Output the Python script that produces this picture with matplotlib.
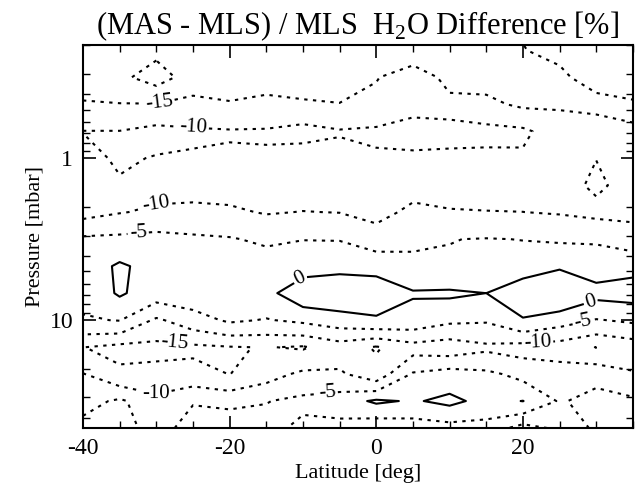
import matplotlib
matplotlib.use("Agg")
import matplotlib.pyplot as plt
import numpy as np
from matplotlib.ticker import FixedLocator, FixedFormatter, NullFormatter

plt.rcParams["font.family"] = ["Liberation Serif", "DejaVu Serif"]
plt.rcParams["mathtext.fontset"] = "custom"
plt.rcParams["mathtext.rm"] = "Liberation Serif"
plt.rcParams["axes.unicode_minus"] = False

# latitude grid [deg]
latitude = [-40, -35, -30, -25, -20, -15, -10, -5, 0, 5, 10, 15, 20, 25, 30, 35]
# pressure levels [mbar]
pressure = [0.147, 0.215, 0.316, 0.464, 0.681, 1.0, 1.47, 2.15,
            3.16, 4.64, 6.81, 10.0, 14.7, 21.5, 31.6, 46.4]

# (MAS - MLS) / MLS difference [%], one list per pressure level (top to bottom)
d_p0147 = [-18, -18, -18.5, -18, -18, -18, -18, -18, -18, -18.5, -18.5, -19, -20.5, -23, -25, -25]
d_p0215 = [-17.5, -17.5, -19, -17.5, -17, -17, -17, -17, -16.5, -17.1, -17, -17.5, -19.8, -21.6, -23, -24]
d_p0316 = [-17, -19, -22, -18, -16.5, -16.5, -16.5, -16.5, -15.2, -13, -16, -16.5, -17, -18.5, -23.4, -22]
d_p0464 = [-14.6, -14.8, -14.8, -13.3, -14.75, -14, -14.58, -14.9, -13.9, -12.5, -14.1, -14, -15.8, -15.5, -17, -19.5]
d_p0681 = [-9.9, -9.9, -8.3, -9.4, -9.6, -9.5, -8.0, -9.6, -9.1, -6.8, -6.2, -8.3, -9.0, -12.8, -11, -12.4]
d_p1000 = [-11.5, -9.3, -10.3, -10.4, -10.7, -10.6, -13, -11.8, -10.7, -11.6, -12.6, -11.4, -10.8, -12, -10.05, -12]
d_p1470 = [-11.5, -10.55, -11.5, -11.5, -11.5, -11.5, -12, -12, -12, -11.5, -10.8, -11, -11.5, -11.5, -9.3, -11.5]
d_p2150 = [-11.67, -10.24, -9.26, -8.96, -9.36, -10.3, -9.9, -10.1, -11.5, -8.96, -9.86, -9.93, -9.98, -10.35, -11.2, -11.2]
d_p3160 = [-4.03, -3.7, -3.1, -4.0, -4.57, -6, -5.1, -5.2, -7.5, -6.3, -5.1, -4.8, -5.1, -5.6, -5.6, -7.6]
d_p4640 = [-3, 0.8, -2, -2, -2.5, -1.8, -2.06, -1.4, -1.5, -3.2, -4.5, -2.5, -2.8, -0.6, -2, -1.2]
d_p6810 = [-3.5, 0.6, -2.5, -2, -2.5, -1.5, 3.5, 4, 3, 0.4, 0.8, -0.01, 4, 5, 1.5, 2]
d_p10 = [-5.5, -4.8, -10.8, -7.2, -4.2, -5.3, -4, -2.35, -0.7, -1.8, -4, -4.5, -0.5, -2.9, -5.3, -4.2]
d_p14 = [-14.9, -16.5, -16.5, -16, -15.3, -14.8, -15.5, -12.5, -15.5, -12, -13, -11, -12, -12.5, -15.1, -13]
d_p21 = [-9.8, -14, -13.4, -13.3, -15.1, -12, -9, -9.3, -13.2, -4.5, -2.7, -3.9, -6.5, -7.5, -6.5, -9.5]
d_p31 = [-7, -4.1, -8.5, -5.3, -6.3, -5.2, -3.7, -2.4, 0.8, -0.5, 1.2, -1.5, 0.1, -5.5, -3.3, -4]
d_p46 = [-3, -3, -7, -3, -1.5, -3, -6.5, -6.7, -8.9, -8, -7, -7, -12, -9, -4, -4]

levels = [-20, -15, -10, -5, 0]

diff = np.array([d_p0147, d_p0215, d_p0316, d_p0464, d_p0681, d_p1000, d_p1470,
                 d_p2150, d_p3160, d_p4640, d_p6810, d_p10, d_p14, d_p21, d_p31, d_p46])

fig = plt.figure(figsize=(6.35, 4.96), dpi=100)
ax = fig.add_axes([0.1307, 0.137, 0.866, 0.772])

dotted = (0, (1.6, 2.6))
styles = [dotted if lv < 0 else "solid" for lv in levels]
cs = ax.contour(latitude, pressure, diff, levels=levels, colors="k",
                linewidths=1.5, linestyles=styles)

ax.set_yscale("log")
ax.set_xlim(-40, 35)
ax.set_ylim(46.4, 0.2)

# contour labels roughly where the original has them
label_spots = [(-29.6, 0.46), (-25, 0.67), (-30, 1.84), (-32.5, 2.8),
               (-11, 5.0), (29, 7.1), (28, 9.3), (22, 14.0),
               (-27.5, 13.8), (-30, 28), (-6.7, 28)]
ax.clabel(cs, manual=label_spots, fmt="%d", fontsize=15, inline=True, inline_spacing=2)

ax.xaxis.set_major_locator(FixedLocator([-40, -20, 0, 20]))
ax.xaxis.set_minor_locator(FixedLocator(np.arange(-40, 36, 5)))
ax.yaxis.set_major_locator(FixedLocator([1, 10]))
ax.yaxis.set_major_formatter(FixedFormatter(["1", "10"]))
ax.yaxis.set_minor_locator(FixedLocator([0.2, 0.3, 0.4, 0.5, 0.6, 0.7, 0.8, 0.9,
                                         2, 3, 4, 5, 6, 7, 8, 9, 20, 30, 40]))
ax.yaxis.set_minor_formatter(NullFormatter())

ax.tick_params(which="both", direction="in", top=True, right=True, labelsize=17)
ax.tick_params(which="major", length=9, width=1.2, pad=7)
ax.tick_params(which="minor", length=5, width=1.0)
for sp in ax.spines.values():
    sp.set_linewidth(1.5)

ax.set_xlabel("Latitude [deg]", fontsize=16, labelpad=4)
ax.set_ylabel("Pressure [mbar]", fontsize=16, labelpad=4)
ax.set_title(r"(MAS - MLS) / MLS  H$_2$O Difference [%]", fontsize=22, pad=8)

fig.savefig("out.png", dpi=100)
